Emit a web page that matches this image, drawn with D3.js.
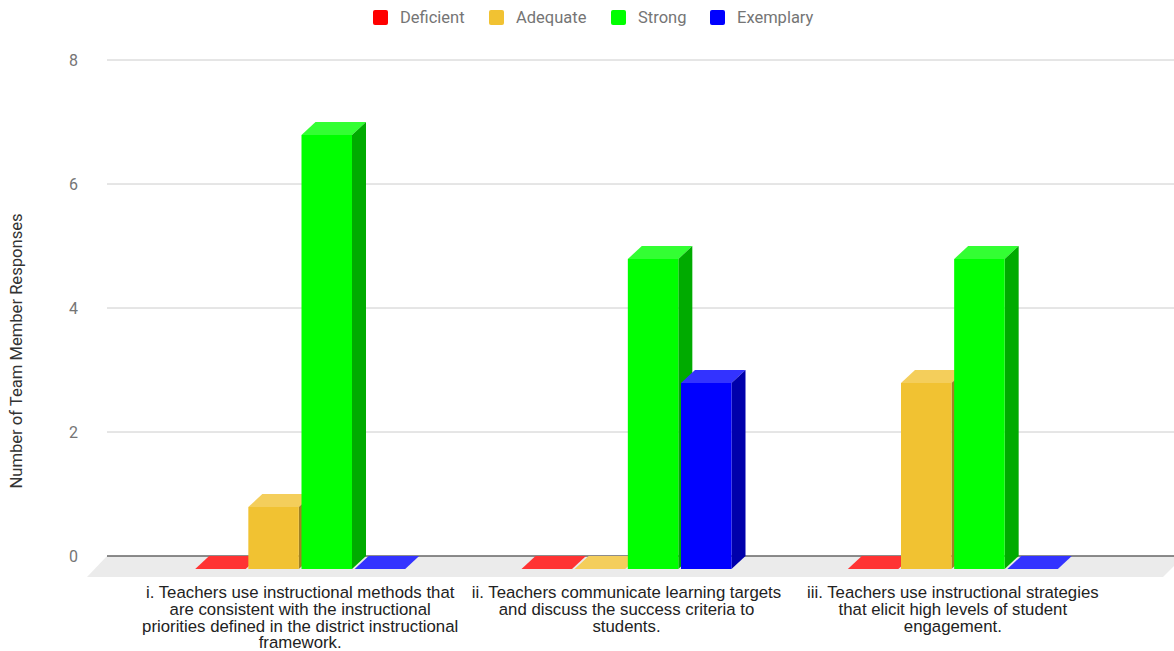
<!DOCTYPE html>
<html>
<head>
<meta charset="utf-8">
<script src="https://cdn.jsdelivr.net/npm/d3@7/dist/d3.min.js"></script>
<style>
  html, body { margin: 0; padding: 0; background: #fff; }
  svg { display: block; }
</style>
</head>
<body>
<svg id="chart" width="1174" height="651"></svg>
<script>
// Rating categories (legend order) and their colours
const series = ["Deficient", "Adequate", "Strong", "Exemplary"];
const seriesColors = ["#ff0000", "#f1c232", "#00ff00", "#0000ff"];

// Criteria along the x axis (wrapped label lines)
const categories = ["i", "ii", "iii"];
const categoryLabels = [
  ["i. Teachers use instructional methods that", "are consistent with the instructional", "priorities defined in the district instructional", "framework."],
  ["ii. Teachers communicate learning targets", "and discuss the success criteria to", "students."],
  ["iii. Teachers use instructional strategies", "that elicit high levels of student", "engagement."]
];

// Responses per criterion, one array per rating
const deficient = [0, 0, 0];
const adequate  = [1, 0, 3];
const strong    = [7, 5, 5];
const exemplary = [0, 3, 0];
const seriesValues = [deficient, adequate, strong, exemplary];

const yTicks = [0, 2, 4, 6, 8];
const yTitle = "Number of Team Member Responses";

const svg = d3.select("#chart");
const W = 1174;

// Back plane of the plot and the 3D depth offset
const gridLeft = 107, gridRight = 1174;
const depthX = 14, depthY = 13;

const y = d3.scaleLinear().domain([0, 8]).range([556, 60]);
const x0 = d3.scaleBand().domain(categories).range([137, 1116]);
const groupWidth = 210;
const x1 = d3.scaleBand().domain(series).range([0, groupWidth]).paddingInner(0.05);

function shade(c, k) {
  const col = d3.rgb(c);
  return d3.rgb(col.r * k, col.g * k, col.b * k).formatHex();
}
function lighten(c) {
  const col = d3.rgb(c);
  return d3.rgb(col.r + (255 - col.r) * 0.2, col.g + (255 - col.g) * 0.2, col.b + (255 - col.b) * 0.2).formatHex();
}

// Gridlines
svg.append("g").selectAll("line")
  .data(yTicks.filter(t => t !== 0))
  .join("line")
  .attr("x1", gridLeft).attr("x2", gridRight)
  .attr("y1", d => y(d)).attr("y2", d => y(d))
  .attr("stroke", "#cccccc").attr("stroke-width", 1);

// Floor
const floorDepth = 21;
svg.append("path")
  .attr("d", `M${gridLeft},${y(0)} L${W + 10},${y(0)} L${W + 10 - floorDepth},${y(0) + floorDepth} L${gridLeft - 20},${y(0) + floorDepth} Z`)
  .attr("fill", "#ebebeb");

// Baseline
svg.append("line")
  .attr("x1", gridLeft).attr("x2", gridRight)
  .attr("y1", y(0)).attr("y2", y(0))
  .attr("stroke", "#666666").attr("stroke-width", 1.5);

// Y tick labels
svg.append("g").selectAll("text")
  .data(yTicks)
  .join("text")
  .attr("x", 78).attr("y", d => y(d))
  .attr("dy", "0.35em")
  .attr("text-anchor", "end")
  .attr("font-family", "Roboto, sans-serif")
  .attr("font-size", 16)
  .attr("fill", "#757575")
  .text(d => d);

// Y axis title
svg.append("text")
  .attr("transform", `translate(22,351) rotate(-90)`)
  .attr("text-anchor", "middle")
  .attr("font-family", "Roboto, sans-serif")
  .attr("font-size", 16.6)
  .attr("fill", "#333333")
  .text(yTitle);

// 3D bars: front face sits depthX left and depthY below the back plane
const bars = svg.append("g");
categories.forEach((cat, ci) => {
  const gx = x0(cat) + (x0.bandwidth() - groupWidth) / 2;
  series.forEach((s, si) => {
    const v = seriesValues[si][ci];
    const color = seriesColors[si];
    const fx = gx + x1(s);
    const fw = x1.bandwidth();
    const fBottom = y(0) + depthY;
    const fTop = y(v) + depthY;
    const g = bars.append("g");
    // top face
    g.append("path")
      .attr("d", `M${fx},${fTop} L${fx + depthX},${fTop - depthY} L${fx + fw + depthX},${fTop - depthY} L${fx + fw},${fTop} Z`)
      .attr("fill", lighten(color));
    if (v > 0) {
      // side face
      g.append("path")
        .attr("d", `M${fx + fw},${fTop} L${fx + fw + depthX},${fTop - depthY} L${fx + fw + depthX},${fBottom - depthY} L${fx + fw},${fBottom} Z`)
        .attr("fill", shade(color, 0.67));
      // front face
      g.append("rect")
        .attr("x", fx).attr("y", fTop)
        .attr("width", fw).attr("height", fBottom - fTop)
        .attr("fill", color);
    }
  });
});

// Category labels
const labels = svg.append("g")
  .attr("font-family", "'Liberation Sans', Arial, sans-serif")
  .attr("font-size", 16.8)
  .attr("fill", "#222222")
  .attr("text-anchor", "middle");
categories.forEach((cat, ci) => {
  const cx = x0(cat) + x0.bandwidth() / 2;
  const t = labels.append("text").attr("x", cx).attr("y", 598);
  categoryLabels[ci].forEach((line, li) => {
    t.append("tspan").attr("x", cx).attr("y", 598 + li * 16.8).text(line);
  });
});

// Legend
const legendX = [373, 489, 611, 710];
const legend = svg.append("g");
series.forEach((s, i) => {
  legend.append("rect")
    .attr("x", legendX[i]).attr("y", 10)
    .attr("width", 15).attr("height", 15)
    .attr("rx", 2)
    .attr("fill", seriesColors[i]);
  legend.append("text")
    .attr("x", legendX[i] + 27).attr("y", 17.5)
    .attr("dy", "0.35em")
    .attr("font-family", "Roboto, sans-serif")
    .attr("font-size", 16.5)
    .attr("fill", "#757575")
    .text(s);
});
</script>
</body>
</html>
